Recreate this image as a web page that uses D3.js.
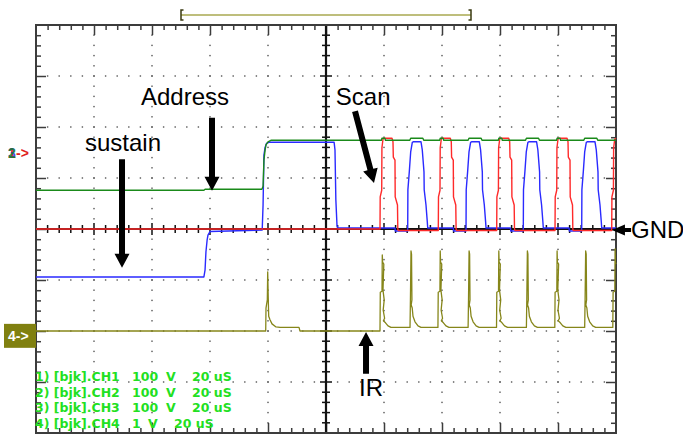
<!DOCTYPE html>
<html>
<head>
<meta charset="utf-8">
<script src="https://cdn.jsdelivr.net/npm/d3@7"></script>
<style>
    body { margin: 0; background: #fff; }
    svg { display: block; }
</style>
</head>
<body>
<div class="visualization"></div>
<script>
// time in uS (20 uS/div, 10 div), level in screen divisions from centre (8 div)
const timeRange = [0, 200];
const divRange = [-4, 4];

const ch2Green = [
    [0, 0.76], [57.9, 0.76], [58.3, 0.78], [77.9, 0.78], [78.3, 0.84], [78.6, 1.35], [79.0, 1.55],
    [79.3, 1.65], [80.0, 1.71], [81.0, 1.74],
    [119.1, 1.74], [119.3, 1.78], [120.3, 1.78], [120.5, 1.74],
    [128.9, 1.74], [129.2, 1.78], [133.4, 1.78], [133.7, 1.74],
    [139.2, 1.74], [139.4, 1.78], [140.4, 1.78], [140.6, 1.74],
    [149.0, 1.74], [149.3, 1.78], [153.5, 1.78], [153.8, 1.74],
    [159.4, 1.74], [159.6, 1.78], [160.6, 1.78], [160.8, 1.74],
    [168.8, 1.74], [169.1, 1.78], [173.3, 1.78], [173.6, 1.74],
    [179.5, 1.74], [179.7, 1.78], [180.7, 1.78], [180.9, 1.74],
    [188.9, 1.74], [189.2, 1.78], [193.4, 1.78], [193.7, 1.74],
    [200, 1.74]
];

const ch3Blue = [
    [0, -0.94], [57.9, -0.94], [58.3, -0.80], [58.6, -0.45], [59.0, -0.22], [59.3, -0.12], [60.0, -0.05],
    [78.0, -0.02], [78.3, 0.47], [78.6, 1.45], [79.0, 1.60], [79.5, 1.68], [80.3, 1.70],
    [102.8, 1.70], [103.1, 1.55], [103.4, 0.57], [103.8, 0.06], [104.1, 0.02],
    [123.8, 0.02], [123.9, -0.04], [128.17, -0.04], [128.24, 0.77], [128.72, 1.12], [129.20, 1.51],
    [129.76, 1.70], [130.07, 1.71], [132.76, 1.71], [133.20, 1.55], [133.79, 1.12], [133.86, 0.77],
    [134.48, 0.47], [134.93, 0.14], [135.07, 0.02],
    [143.9, 0.02], [144.0, -0.04], [148.28, -0.04], [148.35, 0.77], [148.83, 1.12], [149.31, 1.51],
    [149.87, 1.70], [150.18, 1.71], [152.87, 1.71], [153.31, 1.55], [153.90, 1.12], [153.97, 0.77],
    [154.59, 0.47], [155.04, 0.14], [155.18, 0.02],
    [163.6, 0.02], [163.7, -0.04], [168.03, -0.04], [168.10, 0.77], [168.58, 1.12], [169.06, 1.51],
    [169.62, 1.70], [169.93, 1.71], [172.62, 1.71], [173.06, 1.55], [173.65, 1.12], [173.72, 0.77],
    [174.34, 0.47], [174.79, 0.14], [174.93, 0.02],
    [183.8, 0.02], [183.9, -0.04], [188.17, -0.04], [188.24, 0.77], [188.72, 1.12], [189.20, 1.51],
    [189.76, 1.70], [190.07, 1.71], [192.76, 1.71], [193.20, 1.55], [193.79, 1.12], [193.86, 0.77],
    [194.48, 0.47], [194.93, 0.14], [195.07, 0.02],
    [200, 0.02]
];

const ch1Red = [
    [0, 0], [118.62, 0], [118.69, 0.63], [119.21, 0.76], [119.28, 1.59], [119.65, 1.76], [120.0, 1.78],
    [122.76, 1.78], [123.10, 1.71], [123.21, 1.41], [123.79, 1.35], [123.86, 0.63], [124.65, 0.47],
    [124.76, 0.0], [124.93, -0.03],
    [138.72, -0.03], [138.79, 0.63], [139.31, 0.76], [139.38, 1.59], [139.75, 1.76], [140.10, 1.78],
    [142.86, 1.78], [143.20, 1.71], [143.31, 1.41], [143.89, 1.35], [143.96, 0.63], [144.75, 0.47],
    [144.86, 0.0], [145.03, -0.03],
    [158.86, -0.03], [158.93, 0.63], [159.45, 0.76], [159.52, 1.59], [159.89, 1.76], [160.24, 1.78],
    [163.00, 1.78], [163.34, 1.71], [163.45, 1.41], [164.03, 1.35], [164.10, 0.63], [164.89, 0.47],
    [165.00, 0.0], [165.17, -0.03],
    [178.97, -0.03], [179.04, 0.63], [179.56, 0.76], [179.63, 1.59], [180.00, 1.76], [180.35, 1.78],
    [183.11, 1.78], [183.45, 1.71], [183.56, 1.41], [184.14, 1.35], [184.21, 0.63], [185.00, 0.47],
    [185.11, 0.0], [185.28, -0.03],
    [198.52, -0.03], [198.59, 0.63], [199.11, 0.76], [199.18, 1.59], [199.55, 1.76], [200, 1.78]
];

const ch4IR = [
    [0, -2.0], [79.21, -2.0], [79.31, -1.55], [79.76, -1.39], [79.90, -0.84], [80.10, -1.39],
    [80.24, -1.71], [80.69, -1.78], [81.38, -1.86], [82.76, -1.92], [84.14, -1.93], [90.69, -1.93],
    [91.03, -2.0],
    [118.62, -2.0], [118.72, -1.24], [119.31, -1.22], [119.41, -0.51], [119.52, -0.65], [119.93, -0.69],
    [119.65, -1.20], [120.07, -1.39], [119.72, -1.59], [120.21, -1.75], [119.79, -1.80], [120.52, -1.84],
    [121.38, -1.90], [122.41, -1.93],
    [128.97, -1.93], [129.11, -1.39], [129.31, -0.43], [129.49, -0.49], [129.63, -1.39], [129.38, -1.49],
    [129.73, -1.55], [130.00, -1.71], [130.69, -1.82], [131.73, -1.90], [132.76, -1.93],
    [138.6, -1.93], [138.7, -1.24], [139.29, -1.22], [139.39, -0.43], [139.5, -0.65], [139.91, -0.69],
    [139.63, -1.20], [140.05, -1.39], [139.7, -1.59], [140.19, -1.75], [139.77, -1.80], [140.5, -1.84],
    [141.36, -1.90], [142.39, -1.93],
    [149.0, -1.93], [149.14, -1.39], [149.34, -0.43], [149.52, -0.49], [149.66, -1.39], [149.41, -1.49],
    [149.76, -1.55], [150.03, -1.71], [150.72, -1.82], [151.76, -1.90], [152.79, -1.93],
    [158.8, -1.93], [158.9, -1.24], [159.49, -1.22], [159.59, -0.43], [159.7, -0.65], [160.11, -0.69],
    [159.83, -1.20], [160.25, -1.39], [159.9, -1.59], [160.39, -1.75], [159.97, -1.80], [160.7, -1.84],
    [161.56, -1.90], [162.59, -1.93],
    [169.1, -1.93], [169.24, -1.39], [169.44, -0.43], [169.62, -0.49], [169.76, -1.39], [169.51, -1.49],
    [169.86, -1.55], [170.13, -1.71], [170.82, -1.82], [171.86, -1.90], [172.89, -1.93],
    [178.9, -1.93], [179.0, -1.24], [179.59, -1.22], [179.69, -0.43], [179.8, -0.65], [180.21, -0.69],
    [179.93, -1.20], [180.35, -1.39], [180.0, -1.59], [180.49, -1.75], [180.07, -1.80], [180.8, -1.84],
    [181.66, -1.90], [182.69, -1.93],
    [189.2, -1.93], [189.34, -1.39], [189.54, -0.43], [189.72, -0.49], [189.86, -1.39], [189.61, -1.49],
    [189.96, -1.55], [190.23, -1.71], [190.92, -1.82], [191.96, -1.90], [192.99, -1.93],
    [198.9, -1.93], [199.0, -1.24], [199.59, -1.22], [199.69, -0.39], [199.8, -0.65], [200, -0.69]
];

const legendNames = ["1) [bjk].CH1", "2) [bjk].CH2", "3) [bjk].CH3", "4) [bjk].CH4"];
const legendVolts = ["100", "100", "100", "1"];
const legendTime = ["20 uS", "20 uS", "20 uS", "20 uS"];

const zoomWindow = [50, 150];

const labels = [
    { text: "Address", t: 36.2, v: 2.43 },
    { text: "sustain", t: 16.9, v: 1.53 },
    { text: "Scan", t: 103.4, v: 2.43 },
    { text: "GND", t: 205.2, v: -0.18 },
    { text: "IR", t: 111.4, v: -3.27 }
];

const arrows = [
    { from: [29.66, 1.37], to: [29.66, -0.76] },
    { from: [60.69, 2.18], to: [60.69, 0.75] },
    { from: [110.0, 2.31], to: [116.55, 0.90] },
    { from: [205.2, -0.02], to: [198.6, -0.02], small: true },
    { from: [113.8, -2.84], to: [113.8, -2.02] }
];

const width = 683, height = 436;
const plotLeft = 36, plotRight = 616, plotTop = 25, plotBottom = 433;

const svg = d3.select(".visualization")
    .append("svg")
    .attr("width", width)
    .attr("height", height);

const x = d3.scaleLinear().domain(timeRange).range([plotLeft, plotRight]);
const y = d3.scaleLinear().domain(divRange).range([plotBottom, plotTop]);

const frameColor = "#3c3c3c";

// dotted graticule
const xMinor = d3.range(0, 200.01, 4);
const yMinor = d3.range(-4, 4.01, 0.2);
const xMajor = d3.range(20, 200, 20).filter(d => d !== 100);
const yMajor = d3.range(-3, 4, 1).filter(d => d !== 0);

const dots = svg.append("g").attr("fill", "#555");
xMajor.forEach(t => {
    yMinor.slice(1, -1).forEach(v => {
        dots.append("rect").attr("x", x(t) - 0.7).attr("y", y(v) - 0.7).attr("width", 1.4).attr("height", 1.4);
    });
});
yMajor.forEach(v => {
    xMinor.slice(1, -1).forEach(t => {
        dots.append("rect").attr("x", x(t) - 0.7).attr("y", y(v) - 0.7).attr("width", 1.4).attr("height", 1.4);
    });
});

// frame ticks via axes, longer at each division
function edgeAxis(axis, values, g, major) {
    axis.tickValues(values).tickFormat("").tickSizeOuter(0);
    g.call(axis);
    g.select(".domain").remove();
    g.selectAll(".tick line")
        .attr("stroke", frameColor)
        .attr("stroke-width", 1.5)
        .each(function (d) {
            const isMajor = Math.abs(d / major - Math.round(d / major)) < 1e-6;
            const el = d3.select(this);
            ["x2", "y2"].forEach(a => {
                const val = el.attr(a);
                if (val !== null && +val !== 0) el.attr(a, Math.sign(+val) * (isMajor ? 10 : 5));
            });
        });
}

edgeAxis(d3.axisBottom(x), xMinor.slice(1, -1), svg.append("g").attr("transform", `translate(0,${plotTop})`), 20);
edgeAxis(d3.axisTop(x), xMinor.slice(1, -1), svg.append("g").attr("transform", `translate(0,${plotBottom})`), 20);
edgeAxis(d3.axisRight(y), yMinor.slice(1, -1), svg.append("g").attr("transform", `translate(${plotLeft},0)`), 1);
edgeAxis(d3.axisLeft(y), yMinor.slice(1, -1), svg.append("g").attr("transform", `translate(${plotRight},0)`), 1);

// centre axes with ticks on both sides
const cx = x(100), cy = y(0);
const centre = svg.append("g").attr("stroke", "#111").attr("stroke-width", 1.5);
yMinor.slice(1, -1).forEach(v => {
    const len = Math.abs(v - Math.round(v)) < 1e-6 ? 6 : 4;
    centre.append("line").attr("x1", cx - len).attr("x2", cx + len).attr("y1", y(v)).attr("y2", y(v));
});
xMinor.slice(1, -1).forEach(t => {
    const len = Math.abs(t / 20 - Math.round(t / 20)) < 1e-6 ? 6 : 4;
    centre.append("line").attr("x1", x(t)).attr("x2", x(t)).attr("y1", cy - len).attr("y2", cy + len);
});
centre.append("line").attr("x1", cx).attr("x2", cx).attr("y1", plotTop).attr("y2", plotBottom).attr("stroke-width", 2.2);
centre.append("line").attr("x1", plotLeft).attr("x2", plotRight).attr("y1", cy).attr("y2", cy).attr("stroke-width", 2);

svg.append("rect")
    .attr("x", plotLeft).attr("y", plotTop)
    .attr("width", plotRight - plotLeft).attr("height", plotBottom - plotTop)
    .attr("fill", "none")
    .attr("stroke", frameColor)
    .attr("stroke-width", 2);

// traces
svg.append("clipPath").attr("id", "plot")
    .append("rect").attr("x", plotLeft).attr("y", plotTop).attr("width", plotRight - plotLeft + 1).attr("height", plotBottom - plotTop);

const line = d3.line().x(d => x(d[0])).y(d => y(d[1]));
const traces = svg.append("g").attr("clip-path", "url(#plot)").attr("fill", "none");
[
    { data: ch4IR, color: "#86861a", w: 1.3 },
    { data: ch3Blue, color: "#2a2aff", w: 1.4 },
    { data: ch1Red, color: "#ff2a2a", w: 1.4 },
    { data: ch2Green, color: "#1a8a1a", w: 1.4 }
].forEach(s => {
    traces.append("path")
        .attr("d", line(s.data))
        .attr("stroke", s.color)
        .attr("stroke-width", s.w)
        .attr("stroke-linejoin", "round");
});

// zoom window bracket at top
const by = 15;
svg.append("line")
    .attr("x1", x(zoomWindow[0])).attr("x2", x(zoomWindow[1]))
    .attr("y1", by).attr("y2", by)
    .attr("stroke", "#a8a850").attr("stroke-width", 1.5);
zoomWindow.forEach((t, i) => {
    const bx = x(t);
    const dir = i === 0 ? 1 : -1;
    svg.append("path")
        .attr("d", `M${bx + dir * 2.5},${by - 5}H${bx}V${by + 5}H${bx + dir * 2.5}`)
        .attr("fill", "none").attr("stroke", "#3a3a10").attr("stroke-width", 1.5);
});

// channel markers
const m2 = svg.append("g").attr("font-family", "Liberation Sans, Arial, sans-serif")
    .attr("font-weight", "bold").attr("font-size", 14);
m2.append("text").attr("x", 8).attr("y", y(1.5) + 5).attr("fill", "#e02020").text("1");
m2.append("text").attr("x", 8).attr("y", y(1.5) + 5).attr("fill", "#2222dd").attr("opacity", 0.8).text("3");
m2.append("text").attr("x", 8).attr("y", y(1.5) + 5).attr("fill", "#1a8a1a").attr("opacity", 0.75).text("2");
m2.append("text").attr("x", 16).attr("y", y(1.5) + 5).attr("fill", "#e02020").text("->");

svg.append("rect")
    .attr("x", 4).attr("y", y(-1.86))
    .attr("width", plotLeft - 4).attr("height", y(-2.33) - y(-1.86))
    .attr("fill", "#808010");
svg.append("text")
    .attr("x", 8).attr("y", y(-2.1) + 5)
    .attr("font-family", "Liberation Sans, Arial, sans-serif")
    .attr("font-weight", "bold").attr("font-size", 14)
    .attr("fill", "#fff")
    .text("4->");

// legend
const legend = svg.append("g")
    .attr("font-family", "DejaVu Sans, sans-serif")
    .attr("font-weight", "bold")
    .attr("font-size", 12.5)
    .attr("fill", "#22e022");
legendNames.forEach((name, i) => {
    const ly = 381 + i * 15.7;
    const short = legendVolts[i].length < 3;
    legend.append("text").attr("x", 35).attr("y", ly).text(name);
    legend.append("text").attr("x", 132).attr("y", ly).text(legendVolts[i]);
    legend.append("text").attr("x", short ? 148 : 166).attr("y", ly).text("V");
    legend.append("text").attr("x", short ? 174 : 192).attr("y", ly).text(legendTime[i]);
});

// annotations
svg.append("g")
    .attr("font-family", "Liberation Sans, Arial, sans-serif")
    .attr("font-size", 24)
    .attr("fill", "#000")
    .selectAll("text")
    .data(labels)
    .join("text")
    .attr("x", d => x(d.t))
    .attr("y", d => y(d.v))
    .text(d => d.text);

arrows.forEach(a => {
    const x1 = x(a.from[0]), y1 = y(a.from[1]);
    const x2 = x(a.to[0]), y2 = y(a.to[1]);
    const dx = x2 - x1, dy = y2 - y1;
    const len = Math.hypot(dx, dy);
    const ux = dx / len, uy = dy / len;
    const px = -uy, py = ux;
    const shaft = a.small ? 2 : 3;
    const headW = a.small ? 5.5 : 7.5;
    const headL = a.small ? 13 : 14;
    const bx = x2 - ux * headL, byy = y2 - uy * headL;
    const pts = [
        [x1 + px * shaft, y1 + py * shaft],
        [bx + px * shaft, byy + py * shaft],
        [bx + px * headW, byy + py * headW],
        [x2, y2],
        [bx - px * headW, byy - py * headW],
        [bx - px * shaft, byy - py * shaft],
        [x1 - px * shaft, y1 - py * shaft]
    ];
    svg.append("path")
        .attr("d", "M" + pts.map(p => p.join(",")).join("L") + "Z")
        .attr("fill", "#000");
});
</script>
</body>
</html>
